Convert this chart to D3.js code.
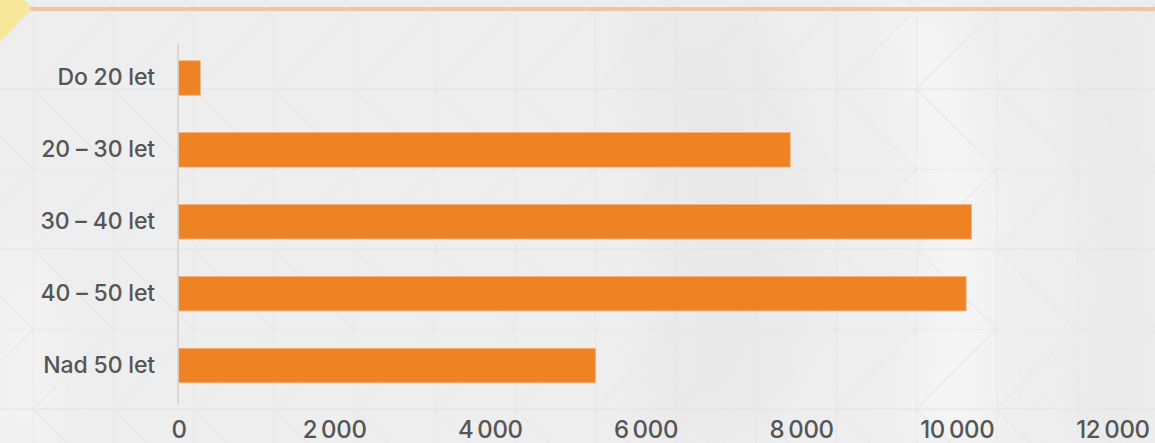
<!DOCTYPE html>
<html>
<head>
<meta charset="utf-8">
<script src="https://cdn.jsdelivr.net/npm/d3@7"></script>
<style>
  html, body { margin: 0; padding: 0; background: #eeeeee; }
  svg { display: block; }
</style>
</head>
<body>
<svg id="chart" width="1155" height="443"></svg>
<script>
// Age groups and counts
const categories = ["Do 20 let", "20 – 30 let", "30 – 40 let", "40 – 50 let", "Nad 50 let"];
const values = [280, 7860, 10190, 10120, 5360];
const tickValues = [0, 2000, 4000, 6000, 8000, 10000, 12000];

const W = 1155, H = 443;
const svg = d3.select("#chart");
const defs = svg.append("defs");

// soft blur for the backdrop shapes
defs.append("filter").attr("id", "soft").attr("x", "-50%").attr("y", "-50%").attr("width", "200%").attr("height", "200%")
  .append("feGaussianBlur").attr("stdDeviation", 22);

// triangle grid tile
const cw = 80.3, ch = 80;
const pat = defs.append("pattern").attr("id", "grid")
  .attr("patternUnits", "userSpaceOnUse")
  .attr("x", 33).attr("y", 9)
  .attr("width", cw).attr("height", ch * 2);
pat.append("path")
  .attr("d", `M0,0V${ch * 2}M0,0H${cw}M0,${ch}H${cw}`)
  .attr("stroke", "#e3e3e3").attr("stroke-width", 1.2).attr("fill", "none");
pat.append("path")
  .attr("d", `M0,${ch}L${cw},0M0,${ch}L${cw},${ch * 2}`)
  .attr("stroke", "#e5e5e5").attr("stroke-width", 1).attr("fill", "none");

// backdrop
svg.append("rect").attr("width", W).attr("height", H).attr("fill", "#eeeeee");
const haze = svg.append("g").attr("filter", "url(#soft)").attr("opacity", 0.7);
haze.append("path").attr("d", "M620,0 L760,0 L800,120 L820,300 L760,443 L640,443 L650,260 Z")
  .attr("fill", "#e8e8e8");
haze.append("path").attr("d", "M890,0 L950,0 L990,200 L990,443 L910,443 L930,260 Z")
  .attr("fill", "#f8f8f8");
haze.append("path").attr("d", "M1050,0 L1155,0 L1155,443 L1070,443 L1085,250 Z")
  .attr("fill", "#e9e9e9");
haze.append("path").attr("d", "M0,250 L40,250 L55,443 L0,443 Z")
  .attr("fill", "#f6f6f6");
svg.append("rect").attr("width", W).attr("height", H).attr("fill", "url(#grid)");

// top rule and corner accent
svg.append("rect").attr("x", 0).attr("y", 7).attr("width", W).attr("height", 4).attr("fill", "#f3c4a0");
svg.append("path").attr("d", "M0,0 L25,0 L31,9 L0,42 Z").attr("fill", "#f7e79b");

// scales
const x = d3.scaleLinear().domain([0, 12000]).range([178.5, 1112.5]);
const y = d3.scaleBand().domain(categories).range([42, 401.5]).paddingInner(0.52).paddingOuter(0.26);

const locale = d3.formatLocale({ decimal: ",", thousands: "\u2009", grouping: [3], currency: ["", " Kč"] });
const fmt = locale.format(",d");

// bars
svg.append("g").selectAll("rect").data(categories).join("rect")
  .attr("x", x(0))
  .attr("y", d => y(d))
  .attr("width", (d, i) => x(values[i]) - x(0))
  .attr("height", y.bandwidth())
  .attr("fill", "#ef8222")
  .attr("stroke", "#f6b483").attr("stroke-width", 0.8);

// category axis
const yAxis = svg.append("g").attr("transform", `translate(${x(0) - 0.5},0)`)
  .call(d3.axisLeft(y).tickSize(0).tickPadding(23));
yAxis.select(".domain").attr("stroke", "#d2d2d2").attr("stroke-width", 1.5)
  .attr("d", "M0,43V405");
yAxis.selectAll("text")
  .attr("font-family", "Inter, sans-serif").attr("font-size", 23).attr("font-weight", 500)
  .attr("fill", "#555555").attr("dy", "0.32em").attr("letter-spacing", -0.15);

// value axis
const xAxis = svg.append("g").attr("transform", "translate(0,421)")
  .call(d3.axisBottom(x).tickValues(tickValues).tickFormat(fmt).tickSize(0).tickPadding(0));
xAxis.select(".domain").remove();
xAxis.selectAll("text")
  .attr("font-family", "Inter, sans-serif").attr("font-size", 24).attr("font-weight", 500)
  .attr("fill", "#555555").attr("dy", "0.72em").attr("letter-spacing", -0.3);
</script>
</body>
</html>
